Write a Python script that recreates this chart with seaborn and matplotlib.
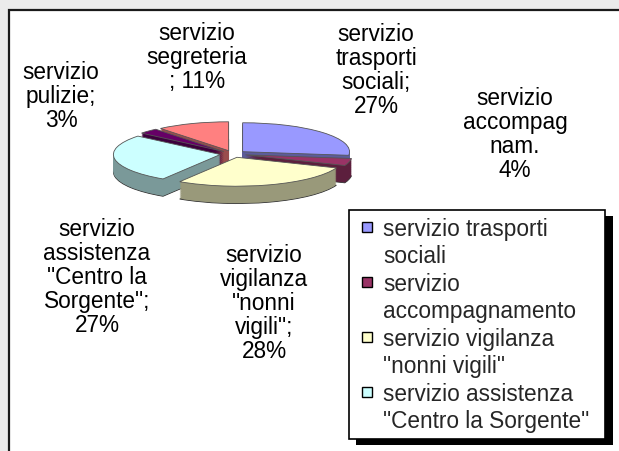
import matplotlib
matplotlib.use("Agg")
import matplotlib.pyplot as plt
import matplotlib.colors as mcolors
from matplotlib.patches import Rectangle
from matplotlib.lines import Line2D
import seaborn as sns

# data
categories = [
    "servizio trasporti sociali",
    "servizio accompagnamento",
    'servizio vigilanza "nonni vigili"',
    'servizio assistenza "Centro la Sorgente"',
    "servizio pulizie",
    "servizio segreteria",
]
percent = [27, 4, 28, 27, 3, 11]
colors = ["#9999ff", "#993366", "#ffffcc", "#ccffff", "#660066", "#ff8080"]

# data labels as wrapped in the chart
label_text = [
    "servizio\ntrasporti\nsociali;\n{}%",
    "servizio\naccompag\nnam.\n{}%",
    'servizio\nvigilanza\n"nonni\nvigili";\n{}%',
    'servizio\nassistenza\n"Centro la\nSorgente";\n{}%',
    "servizio\npulizie;\n{}%",
    "servizio\nsegreteria\n; {}%",
]
# label anchor (centre x, first baseline y) in pixels
label_pos = [(376, 38), (515, 102), (264, 258), (97, 232), (61, 77), (197, 38)]
PITCH = 25  # pixels between label lines

# legend only shows the first four series, wrapped on two lines
legend_lines = [
    ["servizio trasporti", "sociali"],
    ["servizio", "accompagnamento"],
    ["servizio vigilanza", '"nonni vigili"'],
    ["servizio assistenza", '"Centro la Sorgente"'],
]

W, H = 619, 452
sns.set_style("white")
plt.rcParams["font.family"] = ["Liberation Sans", "DejaVu Sans"]
FS = 16.3

fig = plt.figure(figsize=(W / 100, H / 100), dpi=100)
fig.patch.set_facecolor("#ebebeb")

# white chart area with dark border on left/top
fig.patches.append(Rectangle((9 / W, -0.1), 1.2, 1 - 11 / H + 0.1,
                             transform=fig.transFigure, facecolor="white",
                             edgecolor="#1a1a1a", linewidth=1.6, zorder=-5))


def px(x, y):
    return x / W, 1 - y / H


# pie axes, squashed vertically to fake the 3D view
left, top, right, bottom = 94, 114.5, 372, 218.6
ax = fig.add_axes([left / W, 1 - bottom / H, (right - left) / W, (bottom - top) / H])
ax.patch.set_alpha(0)
ax.set_zorder(2)

explode = [0.12] * len(percent)
side_colors = [tuple(c * 0.6 for c in mcolors.to_rgb(col)) for col in colors]
depth = 0.6
n_layers = 26
for k in range(n_layers, 0, -1):
    dz = depth * k / n_layers
    edge = "#333333" if k == n_layers else "none"
    ax.pie(percent, colors=side_colors, explode=explode, startangle=90,
           counterclock=False, center=(0, -dz), radius=1,
           wedgeprops=dict(linewidth=0.6 if k == n_layers else 0, edgecolor=edge))
ax.pie(percent, colors=colors, explode=explode, startangle=90,
       counterclock=False, center=(0, 0), radius=1,
       wedgeprops=dict(linewidth=0.6, edgecolor="#555555"))
ax.set_aspect("auto")
ax.set_xlim(-1.3, 1.3)
ax.set_ylim(-2.2, 1.4)
ax.axis("off")

# data labels (anchored on the baseline of the last line)
for txt, p, (x, y) in zip(label_text, percent, label_pos):
    s = txt.format(p)
    last = y + PITCH * s.count("\n")
    fx, fy = px(x, last)
    fig.text(fx, fy, s, ha="center", va="baseline", fontsize=FS,
             linespacing=1.05, color="black", zorder=3)

# legend
handles, labels = [], []
for lines, col in zip(legend_lines, colors):
    handles.append(Line2D([], [], marker="s", linestyle="none", markersize=7.8,
                          markerfacecolor=col, markeredgecolor="black",
                          markeredgewidth=1.0))
    labels.append(lines[0])
    for extra in lines[1:]:
        handles.append(Line2D([], [], linestyle="none"))
        labels.append(extra)

lx0, ly0 = px(349, 211)
lx1, _ = px(605, 211)
leg = fig.legend(handles, labels, loc="upper left",
                 bbox_to_anchor=(lx0, ly0, lx1 - lx0, 0), mode="expand",
                 bbox_transform=fig.transFigure, borderaxespad=0, fontsize=FS,
                 frameon=True, fancybox=False, framealpha=1, edgecolor="black",
                 borderpad=0.3, handlelength=1.0, handletextpad=0.2,
                 labelspacing=0.2)
leg.get_frame().set_linewidth(1.2)
leg.set_zorder(5)

# solid drop shadow behind the legend
fig.canvas.draw()
bb = leg.get_window_extent()
fig.patches.append(Rectangle(((bb.x0 + 7) / W, (bb.y0 - 6) / H), (bb.width + 1) / W, bb.height / H,
                             transform=fig.transFigure, facecolor="black",
                             edgecolor="none", zorder=4))

fig.savefig("out.png", dpi=100, facecolor=fig.get_facecolor())
